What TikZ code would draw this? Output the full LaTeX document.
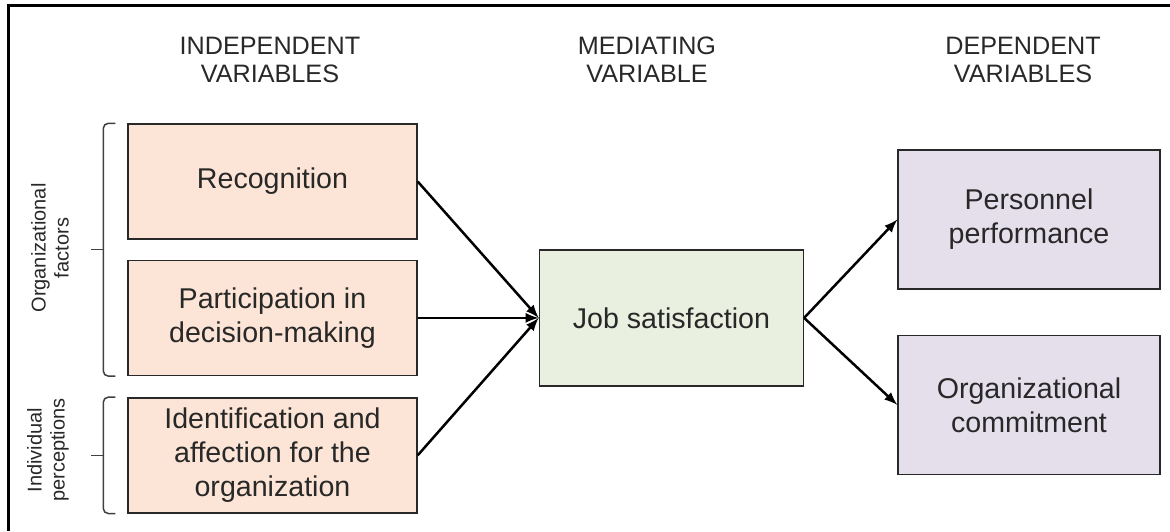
\documentclass[tikz,border=0pt]{standalone}
\usepackage{fontspec}
\setmainfont{Liberation Sans}
\usetikzlibrary{calc}
\usetikzlibrary{positioning}
\definecolor{peach}{RGB}{252,229,214}
\definecolor{sage}{RGB}{234,240,223}
\definecolor{lilac}{RGB}{228,223,235}
\definecolor{inkgray}{RGB}{40,40,40}
\tikzset{indvar/.style={rectangle,
                        draw=inkgray,
                        fill=peach,
                        line width=0.7pt,
                        minimum width=144.5pt,
                        minimum height=57.5pt,
                        align=center,
                        text=inkgray,
                        font=\fontsize{14.3}{17}\selectfont
                        },
        medvar/.style={indvar,
                        fill=sage,
                        minimum width=132pt,
                        minimum height=68pt
        },
        depvar/.style={indvar,
                        fill=lilac,
                        minimum width=131pt,
                        minimum height=69.5pt
        },
        header/.style={align=center,
                        text=inkgray,
                        font=\fontsize{12.6}{14}\selectfont
        },
        grouplabel/.style={align=center,
                        rotate=90,
                        text=inkgray,
                        font=\fontsize{10}{11.5}\selectfont
        },
        groupbracket/.style={draw=black!75,
                        line width=0.75pt,
                        rounded corners=2.5pt
        },
}

\begin{document}
\begin{tikzpicture}
    [x=0.5pt,y=-0.5pt]

    \useasboundingbox (0,0) rectangle (1170,531);
    % frame
    \draw[line width=1.5pt] (1170,5) -- (8,5) -- (8,531);

    % HEADERS
    \node[header] (indephead) at (270,60) {INDEPENDENT\\VARIABLES};
    \node[header] (medhead) at (647,60) {MEDIATING\\VARIABLE};
    \node[header] (dephead) at (1023,60) {DEPENDENT\\VARIABLES};

    % INDEPENDENT
    \node[indvar] (recognition) at (272.5,181.5) {Recognition};
    \node[indvar, below=10pt of recognition] (participation) {Participation in\\decision-making};
    \node[indvar, below=10.5pt of participation] (identification) {Identification and\\affection for the\\organization};

    % MEDIATING
    \node[medvar, right=60.5pt of participation] (jobsat) {Job satisfaction};

    % DEPENDENT
    \node[depvar] (performance) at (1029,219.5) {Personnel\\performance};
    \node[depvar, below=22.5pt of performance] (commitment) {Organizational\\commitment};

    % GROUPS
    \draw[groupbracket] ([xshift=-6pt]recognition.north west) -- ++(-6pt,0) |- ([xshift=-6pt]participation.south west);
    \draw[groupbracket] ($(recognition.north west)!0.5!(participation.south west)+(-12pt,0)$) -- ++(-6pt,0);
    \draw[groupbracket] ([xshift=-6pt]identification.north west) -- ++(-6pt,0) |- ([xshift=-6pt]identification.south west);
    \draw[groupbracket] ([xshift=-12pt]identification.west) -- ++(-6pt,0);
    \node[grouplabel] (orglabel) at (50,248) {Organizational\\factors};
    \node[grouplabel] (indlabel) at (48,450) {Individual\\perceptions};

    \draw[-latex,line width=1.25pt] (recognition.east) -- (jobsat.west);
    \draw[-latex,line width=1.25pt] (participation.east) -- (jobsat.west);
    \draw[-latex,line width=1.25pt] (identification.east) -- (jobsat.west);
    \draw[-latex,line width=1.25pt] (jobsat.east) -- (performance.west);
    \draw[-latex,line width=1.25pt] (jobsat.east) -- (commitment.west);

\end{tikzpicture}
\end{document}
